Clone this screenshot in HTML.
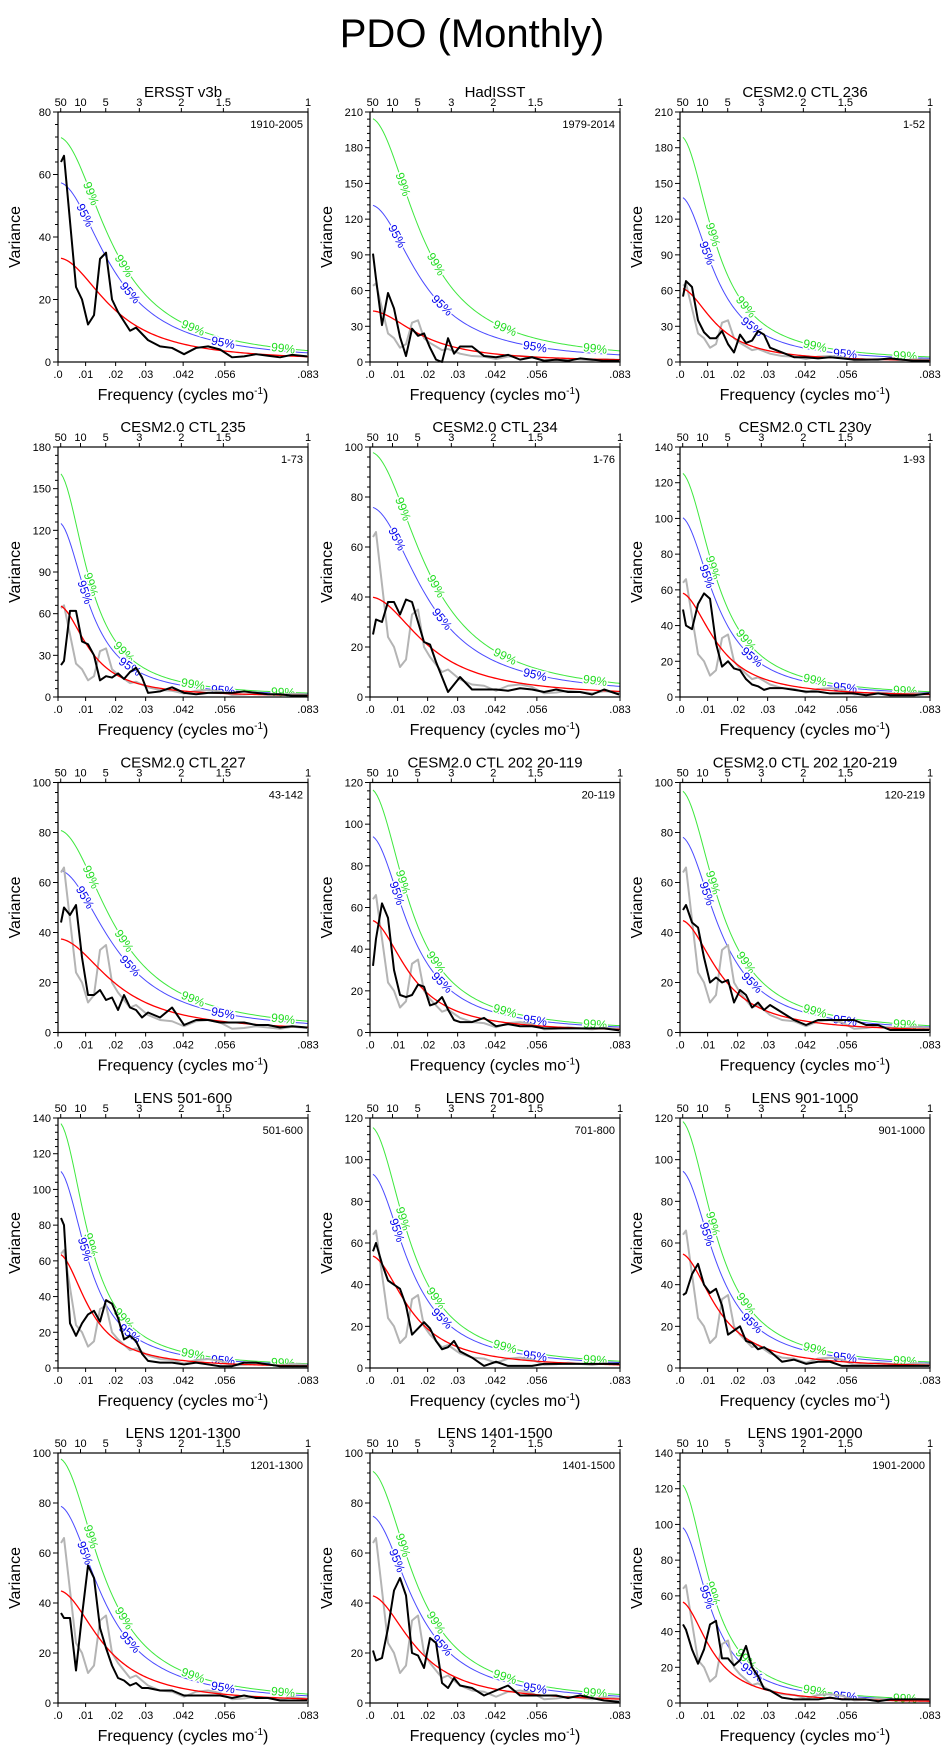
<!DOCTYPE html>
<html><head><meta charset="utf-8">
<style>
html,body{margin:0;padding:0;background:#fff;}
svg{display:block;font-family:"Liberation Sans",sans-serif;}
</style></head>
<body>
<svg id="chart" width="944" height="1750" viewBox="0 0 944 1750" xmlns="http://www.w3.org/2000/svg">
<rect width="944" height="1750" fill="#fff"/>
<text x="472" y="47" font-size="40" text-anchor="middle">PDO (Monthly)</text>
</svg>
<script>
const FREQ=[0.001,0.002,0.004,0.006,0.008,0.010,0.012,0.014,0.016,0.018,0.020,0.022,0.024,0.026,0.028,0.030,0.034,0.038,0.042,0.046,0.050,0.054,0.058,0.062,0.066,0.070,0.074,0.078,0.083];
const TITLES=["ERSST v3b","HadISST","CESM2.0 CTL 236","CESM2.0 CTL 235","CESM2.0 CTL 234","CESM2.0 CTL 230y","CESM2.0 CTL 227","CESM2.0 CTL 202 20-119","CESM2.0 CTL 202 120-219","LENS 501-600","LENS 701-800","LENS 901-1000","LENS 1201-1300","LENS 1401-1500","LENS 1901-2000"];
const PERIODS=["1910-2005","1979-2014","1-52","1-73","1-76","1-93","43-142","20-119","120-219","501-600","701-800","901-1000","1201-1300","1401-1500","1901-2000"];
const YMAX=[80,210,210,180,100,140,100,120,100,140,120,120,100,100,140];
const YSTEP=[20,30,30,30,20,20,20,20,20,20,20,20,20,20,20];
const RED0=[33.3,43,62,66,40,58.5,37.5,54,45,64,54,55,45,43,57];
const C95_0=[57.5,132,139,126,76,101,65,94.5,78.5,111,93.5,95,79,75,99];
const C99_0=[72,205,190,162,98,126,81,117,97,138,116,119,98,93,123];
const HALF_F=[0.019,0.018,0.0125,0.011,0.020,0.0128,0.020,0.014,0.014,0.011,0.014,0.013,0.016,0.016,0.011];
const S_ERSST=[64,66,45,24,20,12,15,33,35,20,16,13,10,11,9,7,5,4.5,2.5,4.5,5,4,1.5,1.8,2.5,2,1.5,2.3,1.8];
const S_HAD=[91,70,31,58,45,21,5,28,22,24,12,2,0,20,7,13,13,5,4,6,2,4,1,2,1,3,2,1,1];
const S_236=[55,68,63,35,25,20,20,26,15,8,23,16,18,26,23,12,8,4,4,3,4,3,2,2,2,3,2,1,1];
const S_235=[23,26,62,62,40,38,30,12,15,14,17,13,18,21,14,3,4,7,3,2,3,3,3,4,3,2,2,1,1];
const S_234=[25,31,30,38,38,33,39,38,30,22,21,14,8,2,5,8,3,3,3,2.5,3.5,3,2,3,2,2,1,3,1];
const S_230=[49,40,38,52,58,55,30,17,20,16,15,10,7,6,4,5,5,4,3,3,2,2,2,1,2,1,1,1,2];
const S_227=[44,50,47,51,30,15,15,17,13,14,9,15,10,9,6,8,6,10,3,5,5,4,4,4,3,3,2,2.5,2];
const S_202A=[32,45,62,55,30,18,17,18,23,22,13,14,17,11,6,5,5,7,3,4,3,3,2,2,2,2,2,2,1];
const S_202B=[49,51,44,42,30,20,22,20,21,12,17,15,10,12,9,11,8,5,3,5,5,5,5,3,3,1,1,1,1];
const S_501=[84,80,25,18,25,30,32,26,38,36,28,16,18,15,8,4,3,3,2,3,2,1,1,3,3,2,1,1,1];
const S_701=[56,60,50,42,40,38,30,16,19,22,19,13,9,10,13,8,5,1,3,1,1,1,2,2,2,2,2,2,2];
const S_901=[35,36,45,50,40,36,38,30,16,18,20,13,12,9,10,8,3,4,2,3,3,1,1,1,1,1,1,1,1];
const S_1201=[36,34,34,13,35,55,50,30,22,15,10,9,7,8,6,6,5,5,3,3,3,3,2,3,2,2,1,1,1];
const S_1401=[21,17,18,30,45,50,43,20,19,14,26,24,8,6,10,7,6,3,5,7,3,3,3,3,2,3,2,1,0.5];
const S_1901=[44,41,30,22,30,44,46,25,25,21,24,32,20,15,8,7,3,2,2,2,3,2,2,2,1,2,2,2,2];
const SERIES=[S_ERSST,S_HAD,S_236,S_235,S_234,S_230,S_227,S_202A,S_202B,S_501,S_701,S_901,S_1201,S_1401,S_1901];
const XTICK_LABELS=[".0",".01",".02",".03",".042",".056",".083"];
const XTICK_VALUES=[0,0.0092,0.0192,0.0292,0.0417,0.0556,0.0833];
const TOP_LABELS=["50","10","5","3","2","1.5","1"];
const TOP_VALUES=[0.0009,0.0075,0.0159,0.0271,0.0411,0.0551,0.0833];

const NS="http://www.w3.org/2000/svg";
const svg=document.getElementById('chart');
function mk(tag,attrs,parent){const e=document.createElementNS(NS,tag);for(const k in attrs)e.setAttribute(k,attrs[k]);(parent||svg).appendChild(e);return e;}
const W=250,H=250,XMAX=0.0833;
const LEFTS=[58,370,680], TOPS=[112,447,782.5,1118,1453];

function solveR(fh){const c=2*(1-Math.cos(2*Math.PI*fh));let lo=0,hi=0.999;for(let i=0;i<60;i++){const r=(lo+hi)/2;const g=(1-r)*(1-r)-r*c;if(g>0)lo=r;else hi=r;}return (lo+hi)/2;}

for(let p=0;p<15;p++){
  const L=LEFTS[p%3],T=TOPS[Math.floor(p/3)];
  const g=mk('g',{});
  
  
  const xs=f=>L+f/XMAX*W;
  const ys=v=>T+H-v/YMAX[p]*H;
  const r=solveR(HALF_F[p]); const a=(1-r)*(1-r);
  const shape=f=>a/(a+2*r*(1-Math.cos(2*Math.PI*f)));
  const ff=[];for(let i=0;i<=120;i++)ff.push(0.001+i*(XMAX-0.001)/120);
  const curve=(s0)=>ff.map((f,i)=>(i?'L':'M')+xs(f).toFixed(2)+','+ys(s0*shape(f)).toFixed(2)).join('');
  const c99=mk('path',{d:curve(C99_0[p]),fill:'none',stroke:'#3ee83e','stroke-width':1},g);
  
  
  const c95=mk('path',{d:curve(C95_0[p]),fill:'none',stroke:'#4a4aff','stroke-width':1},g);
  
  
  const lab=(s0,f,txt,col)=>{
    const x=xs(f),y=ys(s0*shape(f));
    const x2=xs(f+0.001),y2=ys(s0*shape(f+0.001));
    const ang=Math.atan2(y2-y,x2-x)*180/Math.PI;
    const t=mk('text',{x:x,y:y+4,'font-size':12,'text-anchor':'middle',fill:col,stroke:'#fff','stroke-width':3,'paint-order':'stroke',transform:`rotate(${ang.toFixed(1)} ${x} ${y})`},g);
    t.textContent=txt;
    
    
  };
  [0.011,0.022,0.045,0.075].forEach(f=>lab(C99_0[p],f,'99%','#22dd22'));
  [0.009,0.024,0.055].forEach(f=>lab(C95_0[p],f,'95%','#0000ee'));
  if(p>0){
    const gd=FREQ.map((f,i)=>(i?'L':'M')+xs(f).toFixed(2)+','+ys(S_ERSST[i]).toFixed(2)).join('');
    const gp=mk('path',{d:gd,fill:'none',stroke:'#b4b4b4','stroke-width':2,'stroke-linejoin':'round'},g);
    
    
  }
  const rp=mk('path',{d:curve(RED0[p]),fill:'none',stroke:'#ff0000','stroke-width':1.3},g);
  
  
  const bd=FREQ.map((f,i)=>(i?'L':'M')+xs(f).toFixed(2)+','+ys(SERIES[p][i]).toFixed(2)).join('');
  const bp=mk('path',{d:bd,fill:'none',stroke:'#000','stroke-width':2,'stroke-linejoin':'round'},g);
  
  
  const fr=mk('rect',{x:L,y:T,width:W,height:H,fill:'none',stroke:'#000','stroke-width':1.2},g);
  
  
  for(let v=0;v<=YMAX[p]+1e-6;v+=YSTEP[p]/5){
    const major=Math.abs(v/YSTEP[p]-Math.round(v/YSTEP[p]))<1e-6;
    const y=ys(v);
    mk('line',{x1:L,x2:L-(major?5:3),y1:y,y2:y,stroke:'#000','stroke-width':1},g);
    if(major){
      const t=mk('text',{x:L-7,y:y+4,'font-size':11,'text-anchor':'end'},g);
      t.textContent=String(Math.round(v));
      
      
    }
  }
  XTICK_VALUES.forEach((f,i)=>{
    const x=xs(f);
    mk('line',{x1:x,x2:x,y1:T+H,y2:T+H+4,stroke:'#000','stroke-width':1},g);
    const t=mk('text',{x:x,y:T+H+16,'font-size':11,'text-anchor':'middle'},g);
    t.textContent=XTICK_LABELS[i];
    
    
  });
  TOP_VALUES.forEach((f,i)=>{
    const x=xs(f);
    mk('line',{x1:x,x2:x,y1:T,y2:T-4,stroke:'#000','stroke-width':1},g);
    const t=mk('text',{x:x,y:T-6,'font-size':11,'text-anchor':'middle'},g);
    t.textContent=TOP_LABELS[i];
    
    
  });
  const tt=mk('text',{x:L+W/2,y:T-15,'font-size':15,'text-anchor':'middle'},g);
  tt.textContent=TITLES[p];
  
  
  const pt=mk('text',{x:L+W-5,y:T+16,'font-size':11,'text-anchor':'end'},g);
  pt.textContent=PERIODS[p];
  
  
  const yt=mk('text',{x:0,y:0,'font-size':16,'text-anchor':'middle',transform:`translate(${L-38},${T+H/2}) rotate(-90)`},g);
  yt.textContent='Variance';
  
  
  const xt=mk('text',{x:L+W/2,y:T+H+38,'font-size':16,'text-anchor':'middle'},g);
  
  
  xt.innerHTML='Frequency (cycles mo<tspan dy="-6" font-size="10">-1</tspan><tspan dy="6">)</tspan>';
}
</script>
</body></html>
